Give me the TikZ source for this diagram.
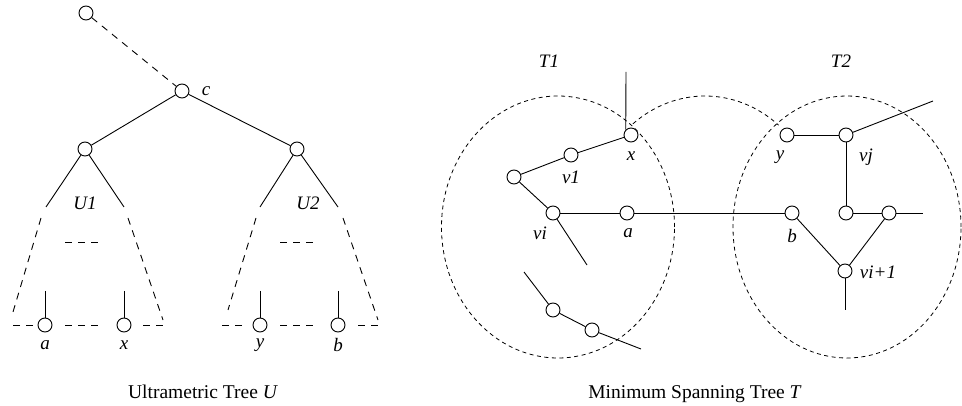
\documentclass[tikz,border=0pt]{standalone}
\usepackage{fontspec}
\setmainfont{Liberation Serif}
\begin{document}
\begin{tikzpicture}[x=1pt,y=-1pt,
  vtx/.style={circle,draw,fill=white,minimum size=14pt,inner sep=0pt,line width=0.9pt},
  edge/.style={line width=0.9pt},
  tdash/.style={line width=0.9pt,dash pattern=on 7pt off 6pt},
  ell/.style={line width=0.8pt,dash pattern=on 4pt off 3.5pt},
  lab/.style={font=\fontsize{19}{22}\selectfont\itshape,inner sep=0pt},
  captext/.style={font=\fontsize{19.5}{23}\selectfont,inner sep=0pt,anchor=base}]
\useasboundingbox (0,0) rectangle (962,406);

% ---------------- Ultrametric tree ----------------
\node[vtx] (top) at (86,13) {};
\node[vtx] (c) at (182,91) {};
\node[vtx] (L) at (85,149) {};
\node[vtx] (R) at (297,149) {};
\node[vtx] (la) at (45,325) {};
\node[vtx] (lx) at (124,325) {};
\node[vtx] (ly) at (260,325) {};
\node[vtx] (lb) at (338,325) {};

\draw[tdash] (top) -- (c);
\draw[edge] (c) -- (L);
\draw[edge] (c) -- (R);

% left subtree U1
\coordinate (L1) at (46,207);
\coordinate (L2) at (124,207);
\draw[edge] (L) -- (L1);
\draw[edge] (L) -- (L2);
\coordinate (L1a) at (41,218); \coordinate (L1b) at (13,312);
\coordinate (L2a) at (128,218); \coordinate (L2b) at (163,320);
\draw[tdash] (L1a) -- (L1b);
\draw[tdash] (L2a) -- (L2b);
\coordinate (Lm1) at (65,242); \coordinate (Lm2) at (98,242);
\draw[tdash] (Lm1) -- (Lm2);
\coordinate (Lb0) at (12,325); \coordinate (Lb1) at (33,325);
\coordinate (Lb2) at (65,325); \coordinate (Lb3) at (98,325);
\coordinate (Lb4) at (143,325); \coordinate (Lb5) at (163,325);
\draw[tdash] (Lb1) -- (Lb0);
\draw[tdash] (Lb2) -- (Lb3);
\draw[tdash] (Lb4) -- (Lb5);
\coordinate (va) at (45,291); \coordinate (vx) at (124,291);
\draw[edge] (va) -- (la);
\draw[edge] (vx) -- (lx);

% right subtree U2
\coordinate (R1) at (260,207);
\coordinate (R2) at (338,207);
\draw[edge] (R) -- (R1);
\draw[edge] (R) -- (R2);
\coordinate (R1a) at (256,218); \coordinate (R1b) at (228,310);
\coordinate (R2a) at (343,218); \coordinate (R2b) at (378,320);
\draw[tdash] (R1a) -- (R1b);
\draw[tdash] (R2a) -- (R2b);
\coordinate (Rm1) at (280,242); \coordinate (Rm2) at (313,242);
\draw[tdash] (Rm1) -- (Rm2);
\coordinate (Rb0) at (221,325); \coordinate (Rb1) at (242,325);
\coordinate (Rb2) at (280,325); \coordinate (Rb3) at (313,325);
\coordinate (Rb4) at (358,325); \coordinate (Rb5) at (378,325);
\draw[tdash] (Rb1) -- (Rb0);
\draw[tdash] (Rb2) -- (Rb3);
\draw[tdash] (Rb4) -- (Rb5);
\coordinate (vy) at (260,291); \coordinate (vb) at (338,291);
\draw[edge] (vy) -- (ly);
\draw[edge] (vb) -- (lb);

\node[lab] (labc) at (206,91) {c};
\node[lab] (labU1) at (85,203) {U1};
\node[lab] (labU2) at (308,203) {U2};
\node[lab] (laba) at (45,345) {a};
\node[lab] (labx) at (124,345) {x};
\node[lab] (laby) at (260,345) {y};
\node[lab] (labb) at (338,345) {b};
\node[captext] (capU) at (203,399) {Ultrametric Tree \textit{U}};

% ---------------- Minimum spanning tree ----------------
\draw[ell] (558,227) ellipse [x radius=116.5pt, y radius=131pt];
\draw[ell] (847,227) ellipse [x radius=114pt, y radius=131pt];
\coordinate (mc) at (705,227);
\draw[ell] (mc) ++(128:117pt and 131pt) arc[start angle=128, end angle=51, x radius=117pt, y radius=131pt];

\node[vtx] (xn) at (631,135) {};
\node[vtx] (v1) at (571,155) {};
\node[vtx] (ln) at (514,177) {};
\node[vtx] (vi) at (553,213) {};
\node[vtx] (an) at (627,213) {};
\node[vtx] (bn) at (792,213) {};
\node[vtx] (yn) at (787,135) {};
\node[vtx] (vj) at (846,135) {};
\node[vtx] (mn) at (846,213) {};
\node[vtx] (rn) at (889,213) {};
\node[vtx] (vi1) at (845,271) {};
\node[vtx] (p1) at (553,310) {};
\node[vtx] (p2) at (592,330) {};

\coordinate (tx) at (626,72);
\coordinate (tvi) at (587,265);
\coordinate (tp1) at (524,272);
\coordinate (tp2) at (641,349);
\coordinate (tvj) at (933,101);
\coordinate (trn) at (923,213);
\coordinate (tvi1) at (845,310);

\draw[edge] (tx) -- (xn.135);
\draw[edge] (xn) -- (v1);
\draw[edge] (v1) -- (ln);
\draw[edge] (ln) -- (vi);
\draw[edge] (vi) -- (an);
\draw[edge] (vi) -- (tvi);
\draw[edge] (an) -- (bn);
\draw[edge] (tp1) -- (p1);
\draw[edge] (p1) -- (p2);
\draw[edge] (p2) -- (tp2);
\draw[edge] (yn) -- (vj);
\draw[edge] (vj) -- (tvj);
\draw[edge] (vj) -- (mn);
\draw[edge] (mn) -- (rn);
\draw[edge] (rn) -- (trn);
\draw[edge] (bn) -- (vi1);
\draw[edge] (rn) -- (vi1);
\draw[edge] (vi1) -- (tvi1);

\node[lab] (labT1) at (549,61) {T1};
\node[lab] (labT2) at (841,61) {T2};
\node[lab] (labxx) at (631,156) {x};
\node[lab] (labv1) at (571,177) {v1};
\node[lab] (labvi) at (540,233) {vi};
\node[lab] (labaa) at (628,233) {a};
\node[lab] (labyy) at (780,157) {y};
\node[lab] (labvj) at (866,157) {vj};
\node[lab] (labbb) at (792,236) {b};
\node[lab] (labvi1) at (878,272) {vi+1};
\node[captext] (capT) at (695,399) {Minimum Spanning Tree \textit{T}};
\end{tikzpicture}
\end{document}
